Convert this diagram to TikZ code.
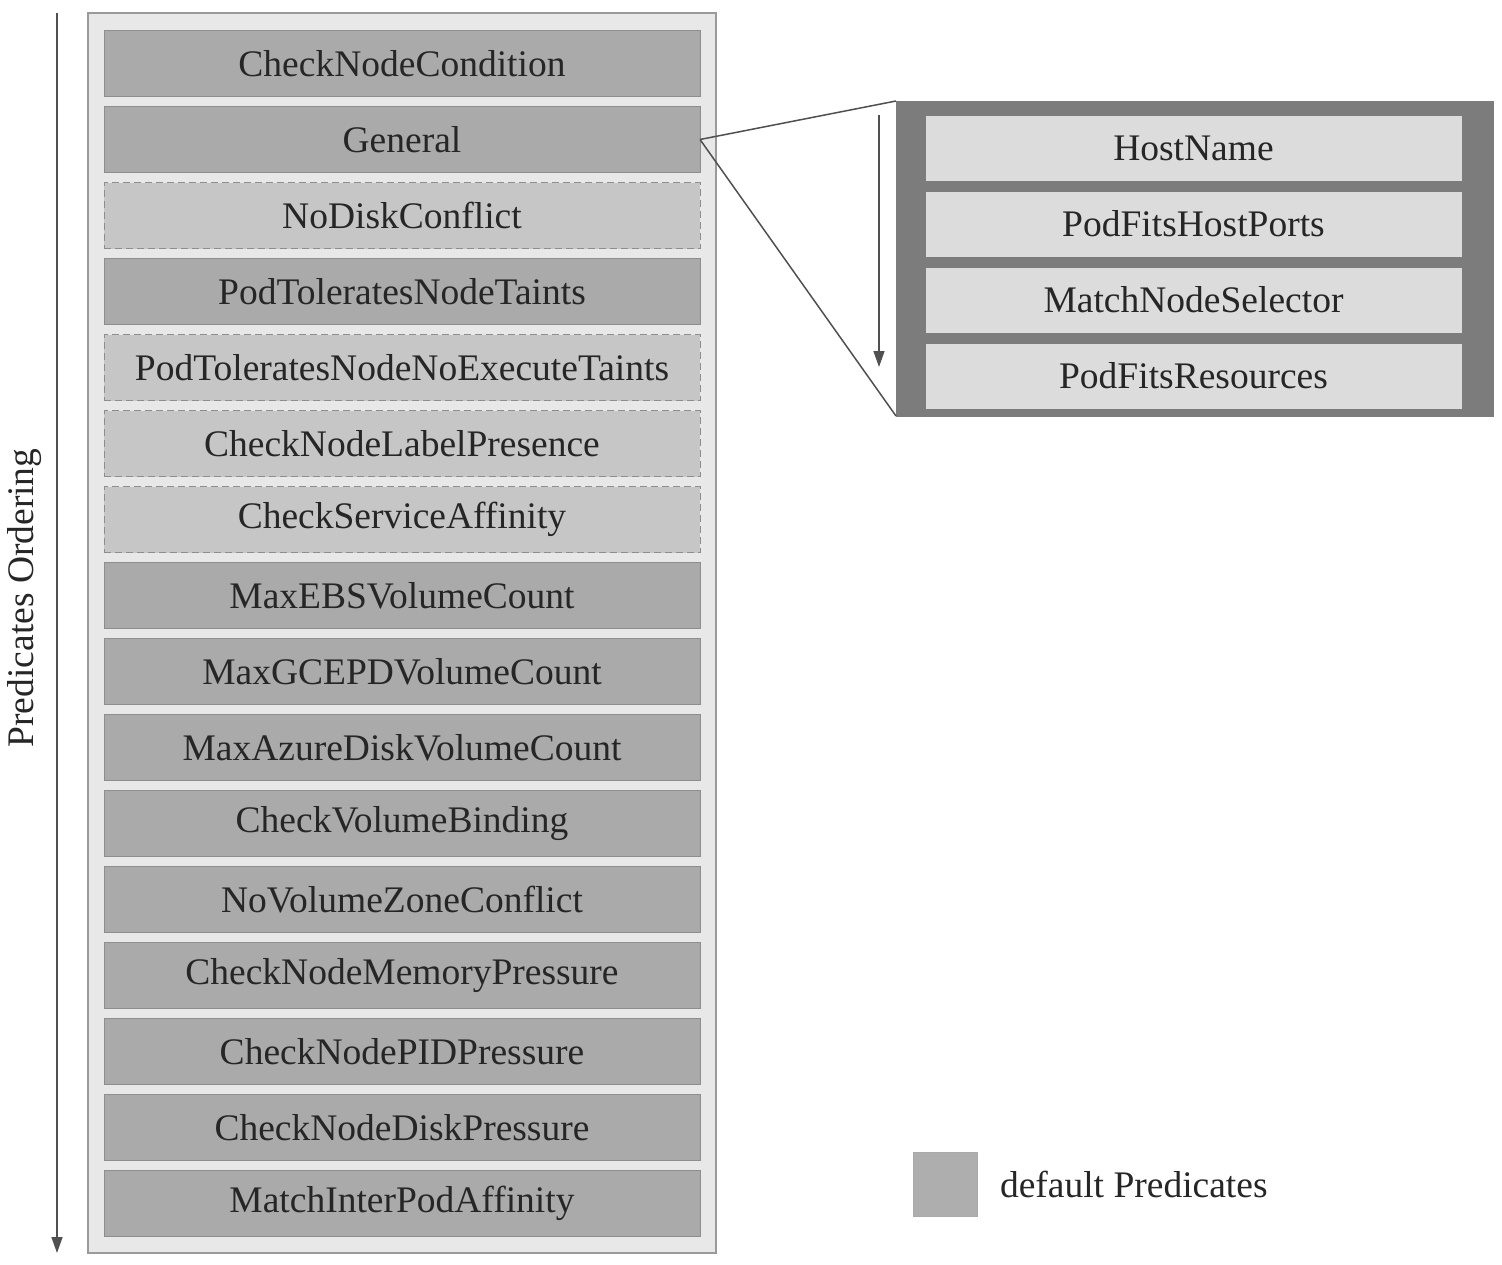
\documentclass[tikz,border=0pt]{standalone}
\usepackage{fontspec}
\setmainfont{Liberation Serif}
\usetikzlibrary{arrows.meta, positioning}
\definecolor{framegray}{HTML}{E8E8E8}
\definecolor{frameedge}{HTML}{9A9A9A}
\definecolor{predgray}{HTML}{AAAAAA}
\definecolor{optgray}{HTML}{C6C6C6}
\definecolor{boxedge}{HTML}{8E8E8E}
\definecolor{darkframe}{HTML}{7C7C7C}
\definecolor{lightbox}{HTML}{DCDCDC}
\definecolor{textgray}{HTML}{262626}
\definecolor{linegray}{HTML}{505050}

\begin{document}
\begin{tikzpicture}[
            x=1pt, y=-1pt,
            node distance=10pt,
            >={Triangle[length=16pt,width=11pt]},
            every node/.style={font=\fontsize{37.5}{40}\selectfont, text=textgray, inner sep=0pt, outer sep=0pt},
            predbox/.style={rectangle, draw=boxedge, line width=1pt, fill=predgray, minimum width=596pt, minimum height=66pt},
            optbox/.style={predbox, fill=optgray, dash pattern=on 7pt off 4pt},
            hostbox/.style={rectangle, draw=lightbox, fill=lightbox, minimum width=535pt, minimum height=64pt},
            framebox/.style={rectangle, draw=frameedge, line width=1.2pt, fill=framegray},
            ]
            \useasboundingbox (0,0) rectangle (1502,1264);

            % frames
            \node[framebox, minimum width=628pt, minimum height=1240pt] (ordframe) at (402,633) {};
            \node[rectangle, draw=darkframe, fill=darkframe, minimum width=597pt, minimum height=315pt] (hostframe) at (1194.5,258.5) {};

            % predicates
            \node[predbox]  (cnc)  at (402,63.5) {CheckNodeCondition};
            \node[predbox]  (gen)  [below=of cnc]  {General};
            \node[optbox]   (ndc)  [below=of gen]  {NoDiskConflict};
            \node[predbox]  (ptnt) [below=of ndc]  {PodToleratesNodeTaints};
            \node[optbox]   (ptne) [below=of ptnt] {PodToleratesNodeNoExecuteTaints};
            \node[optbox]   (cnlp) [below=of ptne] {CheckNodeLabelPresence};
            \node[optbox]   (csa)  [below=of cnlp] {CheckServiceAffinity};
            \node[predbox]  (ebs)  [below=of csa]  {MaxEBSVolumeCount};
            \node[predbox]  (gce)  [below=of ebs]  {MaxGCEPDVolumeCount};
            \node[predbox]  (azd)  [below=of gce]  {MaxAzureDiskVolumeCount};
            \node[predbox]  (cvb)  [below=of azd]  {CheckVolumeBinding};
            \node[predbox]  (nvzc) [below=of cvb]  {NoVolumeZoneConflict};
            \node[predbox]  (cnmp) [below=of nvzc] {CheckNodeMemoryPressure};
            \node[predbox]  (cnpp) [below=of cnmp] {CheckNodePIDPressure};
            \node[predbox]  (cndp) [below=of cnpp] {CheckNodeDiskPressure};
            \node[predbox]  (mipa) [below=of cndp] {MatchInterPodAffinity};

            % general predicates
            \node[hostbox]  (hn)   at (1193.5,148) {HostName};
            \node[hostbox]  (pfhp) [below=12pt of hn]   {PodFitsHostPorts};
            \node[hostbox]  (mns)  [below=12pt of pfhp] {MatchNodeSelector};
            \node[hostbox]  (pfr)  [below=12pt of mns]  {PodFitsResources};

            % legend
            \node[rectangle, draw=predgray, fill=predgray!95!white, minimum size=64pt] (legbox) at (945,1184.5) {};
            \node[anchor=west] (legtext) [right=23pt of legbox] {default Predicates};

            % ordering arrows
            \coordinate (ordtop) at (57,13);
            \coordinate (ordend) at (57,1253);
            \draw[->, line width=1.5pt, linegray] (ordtop) -- (ordend);
            \node[rotate=90] (ordlabel) at (25,598) {Predicates Ordering};
            \coordinate (hosttop) at (879,115);
            \coordinate (hostend) at (879,367);
            \draw[->, line width=1.5pt, linegray] (hosttop) -- (hostend);

            \draw[line width=1.5pt, linegray] (gen.east) -- (hostframe.north west);
            \draw[line width=1.5pt, linegray] (gen.east) -- (hostframe.south west);
        \end{tikzpicture}
\end{document}
